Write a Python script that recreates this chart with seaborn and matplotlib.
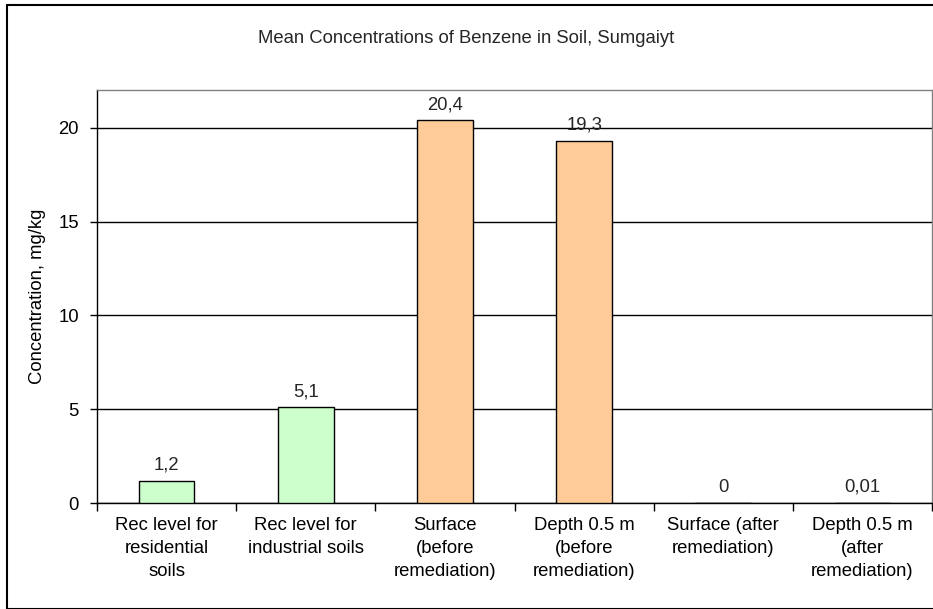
import pandas as pd
import matplotlib.pyplot as plt
import seaborn as sns
from matplotlib.patches import Rectangle

categories = ['Rec level for\nresidential\nsoils', 'Rec level for\nindustrial soils',
              'Surface\n(before\nremediation)', 'Depth 0.5 m\n(before\nremediation)',
              'Surface (after\nremediation)', 'Depth 0.5 m\n(after\nremediation)']
values = [1.2, 5.1, 20.4, 19.3, 0, 0.01]
value_labels = ['1,2', '5,1', '20,4', '19,3', '0', '0,01']
bar_colors = ['#CCFFCC', '#CCFFCC', '#FFCC99', '#FFCC99', '#FFCC99', '#FFCC99']

df = pd.DataFrame({'category': categories, 'value': values})

sns.set_style('white')
plt.rcParams['font.family'] = ['Liberation Sans', 'DejaVu Sans']

fig = plt.figure(figsize=(9.33, 6.09), dpi=100)
ax = fig.add_axes([0.104, 0.174, 0.895, 0.678])

sns.barplot(data=df, x='category', y='value', hue='category', palette=bar_colors,
            saturation=1, legend=False, width=0.4, edgecolor='black', linewidth=1,
            ax=ax, zorder=3)

ax.set_ylim(0, 22)
ax.set_xlim(-0.5, 5.5)
ax.set_yticks([0, 5, 10, 15, 20])
ax.yaxis.grid(True, color='black', linewidth=1)
ax.set_axisbelow(True)

ax.set_xticks(range(len(categories)))
ax.set_xticklabels(categories, fontsize=13.3, color='black', linespacing=1.45)
ax.tick_params(axis='x', which='major', length=0, pad=10)
ax.set_xticks([i - 0.5 for i in range(len(categories) + 1)], minor=True)
ax.tick_params(axis='x', which='minor', bottom=True, length=6, width=1, color='black', direction='out')
ax.tick_params(axis='y', length=5, width=1, color='black', direction='out', labelsize=13.3,
               labelcolor='black', left=True, pad=8)

for s in ax.spines.values():
    s.set_color('black')
    s.set_linewidth(1)
ax.spines['top'].set_color('#808080')
ax.spines['right'].set_color('#808080')

for i, (v, lab) in enumerate(zip(values, value_labels)):
    ax.annotate(lab, (i, v), xytext=(0, 5), textcoords='offset points',
                ha='center', va='bottom', fontsize=13.3)

ax.set_xlabel('')
ax.set_ylabel('Concentration, mg/kg', fontsize=13.3, color='black')
ax.yaxis.set_label_coords(-0.061, 0.5)

fig.text(0.5, 0.937, 'Mean Concentrations of Benzene in Soil, Sumgaiyt', ha='center', va='center',
         fontsize=13.3)

fig.patches.append(Rectangle((7 / 933, 0), 1, 1 - 5 / 609, transform=fig.transFigure,
                             fill=False, edgecolor='black', linewidth=1.5))

fig.savefig('out.png', dpi=100)
